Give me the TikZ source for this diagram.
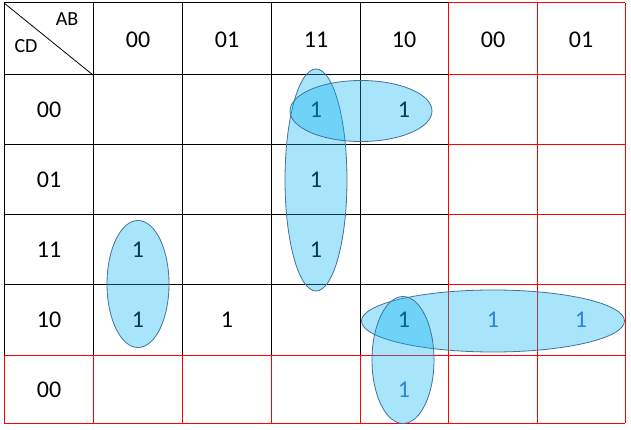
\documentclass[tikz,border=0pt]{standalone}
\usepackage{fontspec}
\setmainfont{Carlito}
\usetikzlibrary{shapes.geometric}
\definecolor{kfill}{RGB}{0,176,240}
\definecolor{kedge}{RGB}{65,113,156}
\definecolor{kone}{RGB}{68,114,196}
\begin{document}
\begin{tikzpicture}[x=1pt,y=-1pt,line width=1pt,
	lbl/.style={font=\fontsize{24}{28}\selectfont,inner sep=0pt},
	vars/.style={font=\fontsize{20}{24}\selectfont,inner sep=0pt},
	grp/.style={ellipse,draw=kedge,line width=0.8pt,fill=kfill,fill opacity=0.34,inner sep=0pt}]
	\useasboundingbox (0,0) rectangle (631,430);
	\foreach \x in {4,93,182,271,360} \draw (\x,3)--(\x,355);
	\foreach \y in {3,75,145,215,284} \draw (4,\y)--(448,\y);
	\draw[line width=0.8pt] (4,3)--(93,75);
	\foreach \x in {448,537,625} \draw[red] (\x,3)--(\x,423);
	\foreach \y in {3,75,145,215,284,355,423} \draw[red] (448,\y)--(625,\y);
	\draw[red] (4,355)--(448,355) (4,423)--(448,423);
	\foreach \x in {4,93,182,271,360} \draw[red] (\x,355)--(\x,423);
	\node[vars] (ab) at (67,19) {AB};
	\node[vars] (cd) at (26,46) {CD};
	\foreach \t/\x [count=\i] in {00/138,01/227,11/316,10/404,00/493,01/581}
		\node[lbl] (h\i) at (\x,40) {\t};
	\foreach \t/\y [count=\i] in {00/110,01/180,11/250,10/320,00/390}
		\node[lbl] (r\i) at (49,\y) {\t};
	\node[lbl] (o1) at (316,110) {1};
	\node[lbl] (o2) at (404,110) {1};
	\node[lbl] (o3) at (316,180) {1};
	\node[lbl] (o4) at (316,250) {1};
	\node[lbl] (o5) at (138,250) {1};
	\node[lbl] (o6) at (138,320) {1};
	\node[lbl] (o7) at (227,320) {1};
	\node[lbl] (o8) at (404,320) {1};
	\node[lbl,text=kone] (o9) at (493,320) {1};
	\node[lbl,text=kone] (o10) at (581,320) {1};
	\node[lbl,text=kone] (o11) at (404,390) {1};
	\node[grp,minimum width=62pt,minimum height=222pt] (g1) at (316,180) {};
	\node[grp,minimum width=142pt,minimum height=61pt] (g2) at (361,111) {};
	\node[grp,minimum width=62pt,minimum height=127pt] (g3) at (138,284) {};
	\node[grp,minimum width=263pt,minimum height=62pt] (g4) at (493,321) {};
	\node[grp,minimum width=62pt,minimum height=127pt] (g5) at (403,360) {};
\end{tikzpicture}
\end{document}
